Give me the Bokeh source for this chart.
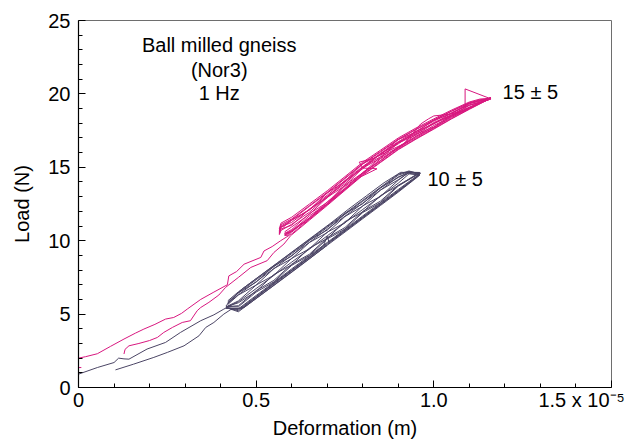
from bokeh.plotting import figure
from bokeh.models import Label, FixedTicker, CustomJSTickFormatter, Range1d, LinearAxis
from bokeh.embed import file_html
from bokeh.resources import INLINE

# ---- data (x in units of 1e-5 m, y in N) ----
x_ticks = [0, 0.5, 1.0, 1.5]
x_minor = [0.1, 0.2, 0.3, 0.4, 0.6, 0.7, 0.8, 0.9, 1.1, 1.2, 1.3, 1.4]
y_ticks = [0, 5, 10, 15, 20, 25]
y_minor = [1, 2, 3, 4, 6, 7, 8, 9, 11, 12, 13, 14, 16, 17, 18, 19, 21, 22, 23, 24]
x_label_pos = [0, 0.5, 1.0, 1.416]
x_label_txt = ["0", "0.5", "1.0", "1.5 x 10⁻⁵"]

# magenta (15 ± 5) – initial loading / final unloading paths
mag_init_x = [0.008, 0.0, 0.0, 0.02, 0.053, 0.09, 0.128, 0.16, 0.184, 0.215, 0.245, 0.268, 0.29, 0.306,
              0.344, 0.381, 0.419, 0.423, 0.445, 0.466, 0.513, 0.522, 0.545, 0.569, 0.592]
mag_init_y = [1.36, 1.36, 2.0, 2.1, 2.3, 2.8, 3.3, 3.7, 3.98, 4.3, 4.66, 4.77, 5.05, 5.34,
              6.0, 6.5, 7.0, 7.6, 7.9, 8.4, 8.86, 9.3, 9.6, 10.0, 10.35]
mag_end_x = [0.128, 0.131, 0.142, 0.17, 0.20, 0.222, 0.24, 0.265, 0.292, 0.315, 0.334, 0.344, 0.367,
             0.395, 0.414, 0.45, 0.485, 0.531, 0.55, 0.578, 0.597]
mag_end_y = [2.28, 2.6, 2.84, 3.0, 3.2, 3.41, 3.75, 4.1, 4.43, 4.55, 5.23, 5.45, 5.8,
             6.3, 6.82, 7.5, 8.18, 8.64, 9.2, 9.77, 10.34]

# magenta load cycles (up branch then down branch)
mag_cx = [0.58, 0.60, 0.65, 0.70, 0.75, 0.80, 0.85, 0.90, 0.95, 1.00, 1.05, 1.10, 1.16,
          1.13, 1.10, 1.05, 1.00, 0.95, 0.90, 0.85, 0.80, 0.75, 0.70, 0.65, 0.60, 0.57, 0.565]
mag_c1_y = [10.45, 10.46, 11.46, 12.45, 13.48, 14.5, 15.37, 16.24, 16.96, 17.64, 18.33, 18.98, 19.7,
            19.6, 19.4, 18.84, 18.23, 17.6, 16.92, 16.09, 15.26, 14.28, 13.3, 12.39, 11.48, 11.1, 10.7]
mag_c2_y = [10.5, 10.76, 11.85, 12.6, 13.8, 14.62, 15.7, 16.35, 17.25, 17.75, 18.55, 19.05, 19.75,
            19.5, 19.33, 18.65, 18.22, 17.4, 16.9, 15.85, 15.25, 14.05, 13.25, 12.1, 11.4, 10.9, 10.5]
mag_c3_y = [10.4, 10.58, 11.57, 12.5, 13.57, 14.59, 15.46, 16.32, 17.03, 17.71, 18.39, 19.03, 19.7,
            19.65, 19.45, 18.9, 18.3, 17.68, 17.0, 16.17, 15.35, 14.37, 13.4, 12.5, 11.6, 11.2, 10.8]
mag_c5_y = [10.6, 10.94, 11.8, 12.95, 13.75, 14.95, 15.62, 16.65, 17.2, 17.98, 18.5, 19.22, 19.65,
            19.4, 19.25, 18.72, 17.95, 17.45, 16.6, 15.92, 14.9, 14.08, 12.92, 12.15, 11.05, 10.8, 10.45]
mag_c6_y = [10.35, 10.4, 11.4, 12.4, 13.43, 14.45, 15.33, 16.2, 16.92, 17.6, 18.3, 18.95, 19.7,
            19.55, 19.38, 18.81, 18.2, 17.57, 16.88, 16.04, 15.22, 14.23, 13.25, 12.34, 11.42, 11.0, 10.6]
mag_c7_y = [10.5, 10.64, 11.7, 12.52, 13.7, 14.55, 15.58, 16.3, 17.12, 17.7, 18.47, 19.0, 19.75,
            19.45, 19.23, 18.58, 18.05, 17.28, 16.7, 15.72, 15.02, 13.88, 13.02, 11.94, 11.12, 10.7, 10.4]
mag_c8_y = [10.4, 10.7, 11.55, 12.65, 13.55, 14.65, 15.45, 16.4, 17.1, 17.85, 18.45, 19.1, 19.7,
            19.55, 19.35, 18.7, 18.15, 17.45, 16.75, 15.95, 15.05, 14.1, 13.1, 12.15, 11.25, 10.95, 10.55]
# cycle with the excursions (cross near 15 N, triangle at the peak)
mag_c4_x = [0.59, 0.64, 0.69, 0.74, 0.79, 0.84, 0.80, 0.79, 0.83, 0.88, 0.916, 0.935, 0.963, 0.985,
            1.0, 1.04, 1.088, 1.088, 1.161, 1.12, 1.05, 1.0, 0.95, 0.90, 0.85, 0.80, 0.75, 0.70,
            0.65, 0.60, 0.575]
mag_c4_y = [10.5, 11.3, 12.3, 13.3, 14.3, 14.9, 14.95, 15.35, 15.6, 16.2, 16.6, 17.15, 17.95, 18.3,
            18.5, 18.6, 18.86, 20.34, 19.66, 19.3, 18.55, 18.0, 17.35, 16.7, 15.9, 15.0, 14.0, 13.0,
            12.1, 11.4, 10.9]

# purple (10 ± 5) – initial loading / final unloading paths
pur_init_x = [0.0, 0.053, 0.1, 0.113, 0.128, 0.142, 0.193, 0.245, 0.287, 0.344, 0.381, 0.409, 0.43]
pur_init_y = [0.91, 1.36, 1.7, 2.0, 1.95, 1.93, 2.62, 3.07, 3.75, 4.55, 4.95, 5.34, 5.6]
pur_end_x = [0.104, 0.155, 0.212, 0.25, 0.297, 0.339, 0.358, 0.381, 0.409, 0.428, 0.466, 0.55,
             0.625, 0.70]
pur_end_y = [1.2, 1.59, 2.05, 2.39, 2.84, 3.52, 4.09, 4.43, 5.0, 5.3, 5.45, 6.95,
             8.3, 9.69]

# purple load cycles (up branch then down branch)
pur_cx = [0.415, 0.45, 0.50, 0.55, 0.60, 0.65, 0.70, 0.75, 0.80, 0.85, 0.90, 0.96,
          0.93, 0.90, 0.85, 0.80, 0.75, 0.70, 0.65, 0.60, 0.55, 0.50, 0.45, 0.42]
pur_c1_y = [5.45, 5.23, 6.14, 7.04, 7.95, 8.85, 9.75, 10.65, 11.56, 12.46, 13.37, 14.5,
            14.7, 14.47, 13.58, 12.69, 11.8, 10.9, 10.01, 9.12, 8.23, 7.34, 6.45, 5.8]
pur_c2_y = [5.5, 5.57, 6.6, 7.3, 8.4, 9.08, 10.2, 10.9, 12.0, 12.7, 13.78, 14.6,
            14.65, 14.15, 13.45, 12.35, 11.65, 10.55, 9.88, 8.78, 8.1, 6.98, 6.3, 5.65]
pur_c3_y = [5.4, 5.36, 6.27, 7.17, 8.08, 8.98, 9.88, 10.78, 11.69, 12.59, 13.49, 14.55,
            14.75, 14.53, 13.64, 12.75, 11.86, 10.97, 10.08, 9.19, 8.3, 7.41, 6.52, 5.9]
pur_c4_y = [5.5, 5.77, 6.55, 7.7, 8.35, 9.5, 10.15, 11.3, 11.95, 13.08, 13.75, 14.65,
            14.66, 14.12, 13.02, 12.38, 11.22, 10.58, 9.45, 8.8, 7.65, 6.98, 5.9, 5.55]
pur_c5_y = [5.45, 5.16, 6.07, 6.97, 7.88, 8.78, 9.69, 10.59, 11.5, 12.4, 13.31, 14.45,
            14.6, 14.35, 13.45, 12.56, 11.67, 10.78, 9.89, 9.0, 8.1, 7.21, 6.32, 5.75]
pur_c6_y = [5.5, 5.5, 6.5, 7.2, 8.32, 9.0, 10.12, 10.8, 11.92, 12.6, 13.72, 14.6,
            14.7, 14.3, 13.62, 12.52, 11.85, 10.72, 10.05, 8.95, 8.28, 7.18, 6.45, 5.7]
pur_c7_y = [5.45, 5.3, 6.2, 7.1, 8.01, 8.91, 9.82, 10.72, 11.63, 12.52, 13.43, 14.5,
            14.55, 13.92, 13.02, 12.13, 11.23, 10.33, 9.43, 8.54, 7.64, 6.74, 5.84, 5.5]
# cycle with the small kink near 10 N
pur_c8_x = [0.415, 0.46, 0.51, 0.56, 0.61, 0.66, 0.69, 0.70, 0.705, 0.74, 0.79, 0.84, 0.89, 0.94, 0.963,
            0.907, 0.86, 0.81, 0.76, 0.71, 0.66, 0.61, 0.56, 0.51, 0.46, 0.43, 0.415]
pur_c8_y = [5.4, 5.4, 6.35, 7.3, 8.15, 9.05, 9.7, 10.3, 9.9, 10.5, 11.4, 12.3, 13.2, 14.1, 14.6,
            14.66, 13.95, 13.05, 12.15, 11.2, 10.3, 9.4, 8.5, 7.6, 6.7, 6.0, 5.55]

MAG = "#d8177f"
PUR = "#4b4565"
FONT = "Liberation Sans"

p = figure(frame_width=533, frame_height=367,
           x_range=Range1d(0, 1.5), y_range=Range1d(0, 25),
           output_backend="svg", toolbar_location=None, x_axis_location=None,
           min_border_left=78, min_border_top=20, min_border_right=14, min_border_bottom=4)

mag_sets = [(mag_init_x, mag_init_y), (mag_end_x, mag_end_y), (mag_c4_x, mag_c4_y)]
mag_sets += [(mag_cx, ys) for ys in (mag_c1_y, mag_c2_y, mag_c3_y, mag_c5_y, mag_c6_y, mag_c7_y, mag_c8_y)]
pur_sets = [(pur_init_x, pur_init_y), (pur_end_x, pur_end_y), (pur_c8_x, pur_c8_y)]
pur_sets += [(pur_cx, ys) for ys in (pur_c1_y, pur_c2_y, pur_c3_y, pur_c4_y, pur_c5_y, pur_c6_y, pur_c7_y)]

for xs, ys in mag_sets:
    p.line(xs, ys, line_color=MAG, line_width=1)
for xs, ys in pur_sets:
    p.line(xs, ys, line_color=PUR, line_width=1)

p.xgrid.visible = False
p.ygrid.visible = False
p.outline_line_color = "#6e6e6e"
p.outline_line_width = 1
p.background_fill_color = "white"
p.border_fill_color = "white"

# x axis with ticks only
xa = LinearAxis(ticker=FixedTicker(ticks=x_ticks, minor_ticks=x_minor),
                formatter=CustomJSTickFormatter(code='return "";'))
# x axis carrying the labels only
xb = LinearAxis(ticker=FixedTicker(ticks=x_label_pos, minor_ticks=[]),
                formatter=CustomJSTickFormatter(args=dict(pos=x_label_pos, txt=x_label_txt), code="""
    for (let i = 0; i < pos.length; i++) { if (Math.abs(tick - pos[i]) < 1e-6) return txt[i]; }
    return "";
"""))
p.add_layout(xa, "below")
p.add_layout(xb, "below")
ya = p.yaxis[0]
ya.ticker = FixedTicker(ticks=y_ticks, minor_ticks=y_minor)

for ax in (xa, xb, ya):
    ax.axis_line_color = "black"
    ax.axis_line_width = 1.2
    ax.major_tick_line_color = "black"
    ax.minor_tick_line_color = "black"
    ax.major_tick_out = 0
    ax.major_tick_in = 7
    ax.minor_tick_out = 0
    ax.minor_tick_in = 4
    ax.major_label_text_font = FONT
    ax.major_label_text_font_size = "20px"
    ax.major_label_text_color = "black"
    ax.axis_label_text_font = FONT
    ax.axis_label_text_font_size = "20px"
    ax.axis_label_text_font_style = "normal"
    ax.axis_label_text_color = "black"

xa.major_label_text_font_size = "0px"
xa.major_label_standoff = 0
xb.axis_line_color = None
xb.major_tick_line_color = None
xb.minor_tick_line_color = None
xb.major_tick_in = 0
xb.minor_tick_in = 0
xb.major_label_standoff = 1
xb.axis_label = "Deformation (m)"
xb.axis_label_standoff = 3
ya.major_label_standoff = 8
ya.axis_label = "Load (N)"
ya.axis_label_standoff = 12

# annotations
for txt, yy in [("Ball milled gneiss", 23.36), ("(Nor3)", 21.66), ("1 Hz", 20.03)]:
    p.add_layout(Label(x=0.396, y=yy, text=txt, text_align="center", text_baseline="alphabetic",
                       text_font=FONT, text_font_size="20px", text_color="black"))
p.add_layout(Label(x=1.1935, y=20.14, text="15 ± 5", text_align="left", text_baseline="alphabetic",
                   text_font=FONT, text_font_size="20px", text_color="black"))
p.add_layout(Label(x=0.982, y=14.23, text="10 ± 5", text_align="left", text_baseline="alphabetic",
                   text_font=FONT, text_font_size="20px", text_color="black"))

open("out.html", "w").write(file_html(p, INLINE))
